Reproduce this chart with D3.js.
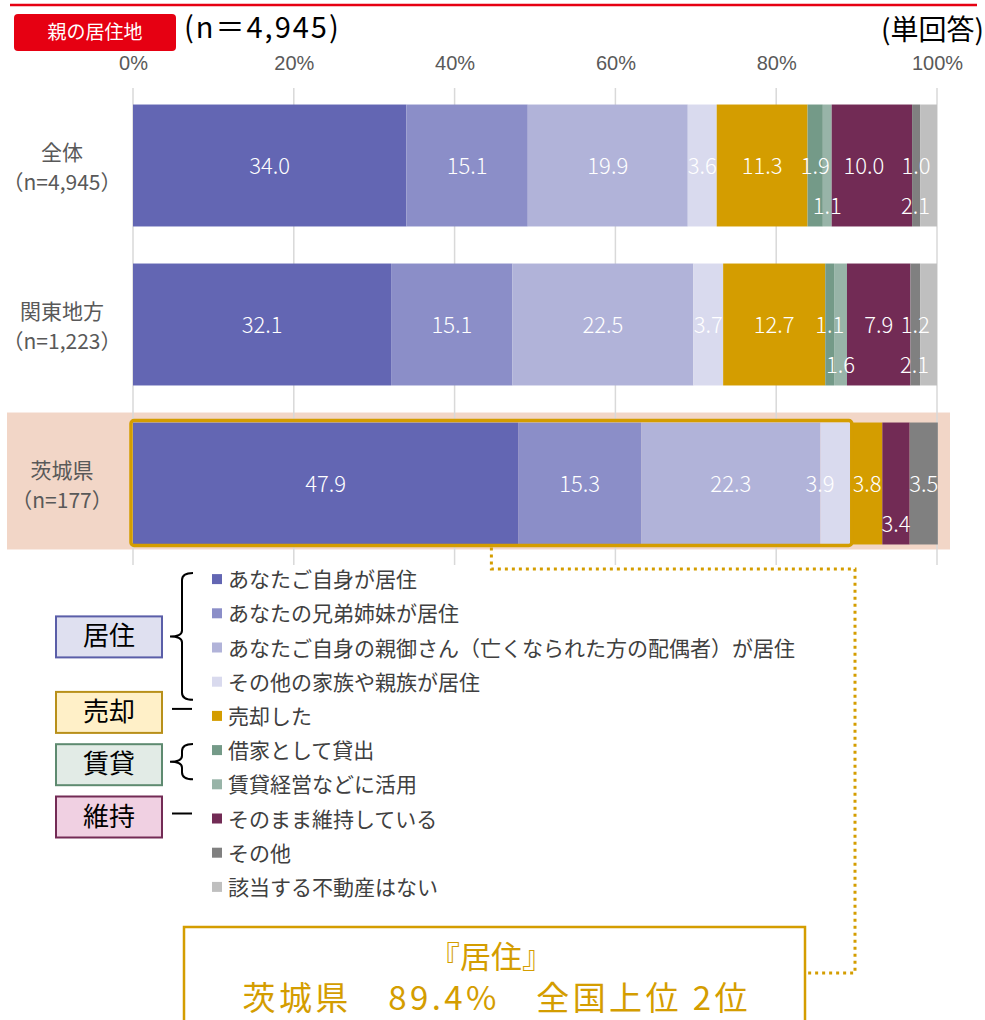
<!DOCTYPE html>
<html>
<head>
<meta charset="utf-8">
<script src="https://cdn.jsdelivr.net/npm/d3@7"></script>
<style>
  body { margin: 0; background: #fff; }
  svg { display: block; font-family: "Noto Sans CJK JP", "Noto Sans", sans-serif; }
  .grid line { stroke: #d9d9d9; stroke-width: 1.5; }
  .axis text { fill: #595959; font-size: 20px; }
  .cat text { fill: #595959; font-size: 21px; }
  .val { fill: #fff; font-size: 22px; font-weight: 300; }
  .legend text { fill: #404040; font-size: 21px; }
</style>
</head>
<body>
<div id="chart"></div>
<script>
  // データ
  const categories = ['全体', '関東地方', '茨城県'];
  const sampleSizes = ['（n=4,945）', '（n=1,223）', '（n=177）'];
  const seriesNames = [
    'あなたご自身が居住',
    'あなたの兄弟姉妹が居住',
    'あなたご自身の親御さん（亡くなられた方の配偶者）が居住',
    'その他の家族や親族が居住',
    '売却した',
    '借家として貸出',
    '賃貸経営などに活用',
    'そのまま維持している',
    'その他',
    '該当する不動産はない'
  ];
  const seriesColors = ['#6366b3', '#8b8ec8', '#b1b3d9', '#d9daee', '#d49d00',
    '#749a88', '#98b4a8', '#722b55', '#808080', '#bfbfbf'];
  const valuesAll = [34.0, 15.1, 19.9, 3.6, 11.3, 1.9, 1.1, 10.0, 1.0, 2.1];
  const valuesKanto = [32.1, 15.1, 22.5, 3.7, 12.7, 1.1, 1.6, 7.9, 1.2, 2.1];
  const valuesIbaraki = [47.9, 15.3, 22.3, 3.9, 3.8, 0, 0, 3.4, 3.5, 0];
  const tickValues = [0, 20, 40, 60, 80, 100];
  const groupNames = ['居住', '売却', '賃貸', '維持'];
  const groupRows = [[0, 3], [4, 4], [5, 6], [7, 7]];
  const groupFills = ['#dfe0f0', '#fff0c8', '#e2ebe6', '#f0d0e2'];
  const groupStrokes = ['#5a5ea8', '#b8901a', '#5e8a70', '#732b55'];
  const residenceTotal = 89.4;

  const W = 985, H = 1020;
  const svg = d3.select('#chart').append('svg')
    .attr('width', W).attr('height', H);

  const keys = seriesNames.map(function(d, i) { return 'k' + i; });
  const rows = [valuesAll, valuesKanto, valuesIbaraki].map(function(vals, r) {
    const o = { cat: categories[r] };
    vals.forEach(function(v, i) { o[keys[i]] = v; });
    return o;
  });
  const stacked = d3.stack().keys(keys)(rows);

  const x = d3.scaleLinear().domain([0, 100]).range([133, 937]);
  const y = d3.scaleBand().domain(categories).range([86, 563])
    .paddingInner(0.233).paddingOuter(0.1165);

  // 上の赤線とタイトル
  svg.append('line').attr('x1', 10).attr('x2', 977).attr('y1', 5).attr('y2', 5)
    .attr('stroke', '#e60012').attr('stroke-width', 2.5);
  svg.append('rect').attr('x', 14).attr('y', 14).attr('width', 162).attr('height', 37)
    .attr('rx', 4).attr('fill', '#e60012');
  svg.append('text').attr('x', 95).attr('y', 39).attr('text-anchor', 'middle')
    .attr('fill', '#fff').style('font-size', '19px').text('親の居住地');
  svg.append('text').attr('x', 184).attr('y', 38).attr('fill', '#000')
    .style('font-size', '29px').style('letter-spacing', '2px').text('(n＝4,945)');
  svg.append('text').attr('x', 984).attr('y', 40).attr('text-anchor', 'end')
    .attr('fill', '#000').style('font-size', '28px').text('(単回答)');

  // 茨城県のハイライト背景
  const yI = y('茨城県');
  svg.append('rect').attr('x', 7).attr('y', yI - 10).attr('width', 943)
    .attr('height', y.bandwidth() + 15).attr('fill', '#f2d6c7');

  // グリッド
  svg.append('g').attr('class', 'grid').selectAll('line')
    .data(tickValues).enter().append('line')
    .attr('x1', function(d) { return x(d); })
    .attr('x2', function(d) { return x(d); })
    .attr('y1', 88).attr('y2', 565);

  // 軸ラベル
  const axis = svg.append('g').attr('class', 'axis')
    .attr('transform', 'translate(0,70)')
    .call(d3.axisTop(x).tickValues(tickValues).tickSize(0).tickPadding(0)
      .tickFormat(function(d) { return d + '%'; }));
  axis.select('.domain').remove();
  axis.selectAll('text').attr('font-family', null).attr('font-size', null);

  // 棒
  stacked.forEach(function(layer, i) {
    svg.append('g').attr('fill', seriesColors[i]).selectAll('rect')
      .data(layer).enter().append('rect')
      .attr('x', function(d) { return x(d[0]); })
      .attr('y', function(d) { return y(d.data.cat); })
      .attr('width', function(d) { return x(d[1]) - x(d[0]); })
      .attr('height', y.bandwidth());
  });

  // ラベル（小さい値は下段にずらす）
  const lowLabels = { '全体': [6, 9], '関東地方': [6, 9], '茨城県': [7] };
  const nudge = { '全体': { 7: -8, 9: -13 }, '関東地方': { 9: -14 }, '茨城県': { 3: -16 } };
  stacked.forEach(function(layer, i) {
    svg.append('g').selectAll('text')
      .data(layer.filter(function(d) { return d[1] - d[0] > 0; }))
      .enter().append('text')
      .attr('class', 'val')
      .attr('text-anchor', 'middle')
      .attr('x', function(d) {
        const n = (nudge[d.data.cat] || {})[i] || 0;
        return (x(d[0]) + x(d[1])) / 2 + n;
      })
      .attr('y', function(d) {
        const low = lowLabels[d.data.cat].indexOf(i) >= 0;
        return y(d.data.cat) + y.bandwidth() / 2 + (low ? 40 : 0) + 8;
      })
      .text(function(d) { return (d[1] - d[0]).toFixed(1); });
  });

  // カテゴリラベル
  const cat = svg.append('g').attr('class', 'cat');
  categories.forEach(function(c, i) {
    const cy = y(c) + y.bandwidth() / 2;
    cat.append('text').attr('x', 62).attr('y', cy - 6).attr('text-anchor', 'middle').text(c);
    cat.append('text').attr('x', 62).attr('y', cy + 24).attr('text-anchor', 'middle').text(sampleSizes[i]);
  });

  // 居住の枠
  const fx0 = x(0) - 2, fx1 = x(residenceTotal);
  svg.append('rect').attr('x', fx0).attr('y', yI - 2)
    .attr('width', fx1 - fx0).attr('height', y.bandwidth() + 3)
    .attr('rx', 3).attr('fill', 'none')
    .attr('stroke', '#d49d00').attr('stroke-width', 3.5);

  // 点線
  const mid = (fx0 + fx1) / 2;
  svg.append('path')
    .attr('d', 'M' + mid + ',' + (yI + y.bandwidth() + 3) + 'V569H855V973H806')
    .attr('fill', 'none').attr('stroke', '#d49d00').attr('stroke-width', 3)
    .attr('stroke-dasharray', '3,4');

  // 凡例
  const yL = d3.scaleBand().domain(seriesNames).range([562, 904]);
  const legend = svg.append('g').attr('class', 'legend');
  seriesNames.forEach(function(s, i) {
    const cy = yL(s) + yL.bandwidth() / 2;
    legend.append('rect').attr('x', 212).attr('y', cy - 5).attr('width', 10).attr('height', 10)
      .attr('fill', seriesColors[i]);
    legend.append('text').attr('x', 228).attr('y', cy + 8).text(s);
  });

  // グループ枠と括弧
  const boxShift = [6, -4, -3, -2];
  groupNames.forEach(function(g, i) {
    const a = yL(seriesNames[groupRows[i][0]]) + yL.bandwidth() / 2;
    const b = yL(seriesNames[groupRows[i][1]]) + yL.bandwidth() / 2;
    const cy = (a + b) / 2 + boxShift[i];
    svg.append('rect').attr('x', 56).attr('y', cy - 20).attr('width', 106).attr('height', 41)
      .attr('fill', groupFills[i]).attr('stroke', groupStrokes[i]).attr('stroke-width', 2);
    svg.append('text').attr('x', 109).attr('y', cy + 9).attr('text-anchor', 'middle')
      .attr('fill', '#000').style('font-size', '26px').text(g);
    if (a === b) {
      svg.append('line').attr('x1', 172).attr('x2', 192).attr('y1', cy - 3).attr('y2', cy - 3)
        .attr('stroke', '#000').attr('stroke-width', 2);
    } else {
      const top = a - 6, bot = b + (i === 0 ? 18 : -5), m = (top + bot) / 2, bx = 182;
      svg.append('path')
        .attr('d', 'M193,' + top + 'Q' + bx + ',' + top + ' ' + bx + ',' + (top + 7) +
          'V' + (m - 6) + 'Q' + bx + ',' + m + ' 170,' + m +
          'Q' + bx + ',' + m + ' ' + bx + ',' + (m + 6) +
          'V' + (bot - 7) + 'Q' + bx + ',' + bot + ' 193,' + bot)
        .attr('fill', 'none').attr('stroke', '#000').attr('stroke-width', 2);
    }
  });

  // 下の注記ボックス
  svg.append('rect').attr('x', 184).attr('y', 927).attr('width', 621).attr('height', 130)
    .attr('fill', '#fff').attr('stroke', '#d49d00').attr('stroke-width', 2.5);
  svg.append('text').attr('x', 491).attr('y', 968).attr('text-anchor', 'middle')
    .attr('fill', '#d49d00').style('font-size', '31px').text('『居住』');
  svg.append('text').attr('x', 495).attr('y', 1010).attr('text-anchor', 'middle')
    .attr('fill', '#d49d00').style('font-size', '33px')
    .attr('textLength', 505).attr('lengthAdjust', 'spacing')
    .text('茨城県\u3000' + residenceTotal + '%\u3000全国上位 2位');
</script>
</body>
</html>
